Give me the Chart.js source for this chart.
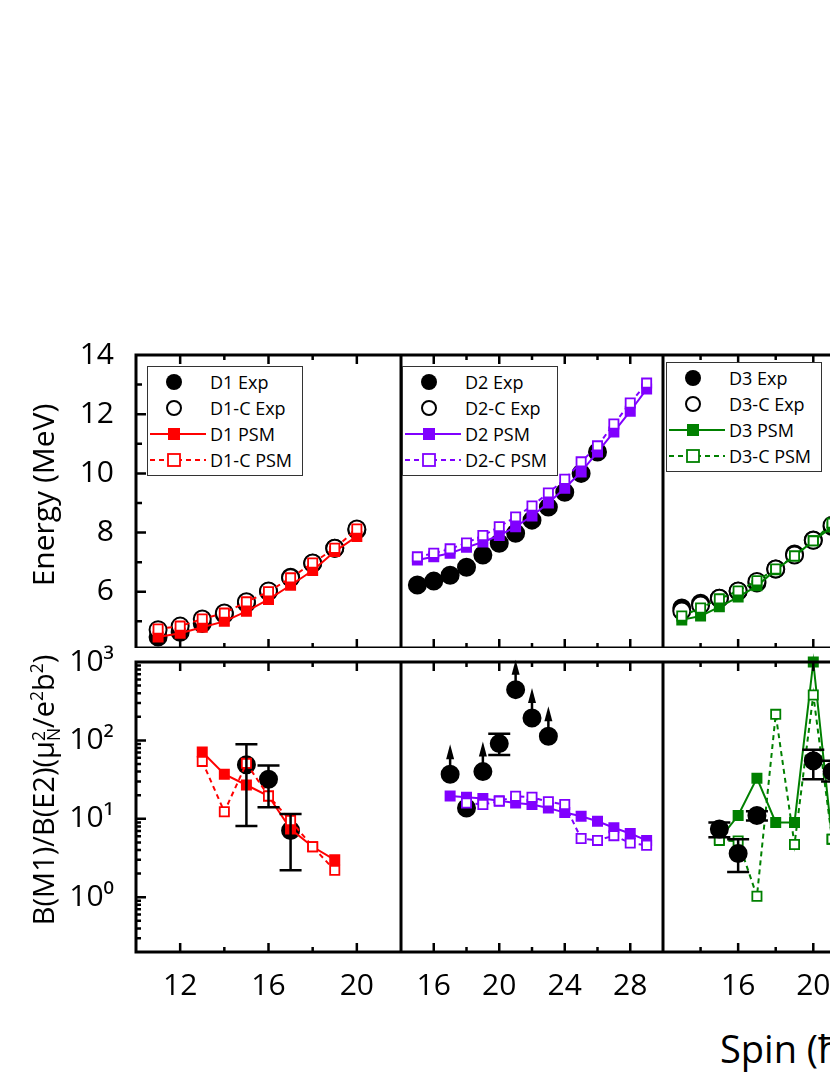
<!DOCTYPE html>
<html><head><meta charset="utf-8">
<script src="https://cdn.jsdelivr.net/npm/chart.js@4"></script>
<style>
html,body{margin:0;padding:0;background:#fff;overflow:hidden;width:830px;height:1075px;font-family:"Open Sans",sans-serif;}
canvas{position:absolute;}
.leg{position:absolute;border:1.5px solid #333;background:#fff;font-size:18px;color:#000;z-index:5;}
.leg div{height:26px;display:flex;align-items:center;}
.leg svg{width:62px;height:24px;flex:none;}
.t{position:absolute;color:#000;white-space:nowrap;}
</style></head><body>
<script>
// ---------- data ----------
const d1Spin=[11,12,13,14,15,16,17,18,19,20];
const d1Exp=[4.47,4.63,4.93,5.24,5.61,6.01,6.49,6.96,7.47,8.09];
const d1cExp=[4.72,4.84,5.08,5.28,5.66,6.03,6.47,6.97,7.47,8.12];
const d1Psm=[4.47,4.6,4.8,5.0,5.34,5.74,6.22,6.72,7.36,7.87];
const d1cPsm=[4.74,4.84,5.08,5.28,5.66,6.0,6.47,6.97,7.47,8.12];

const d2Spin=[15,16,17,18,19,20,21,22,23,24,25,26,27,28,29];
const d2ExpSpin=[15,16,17,18,19,20,21,22,23,24,25,26];
const d2Exp=[6.23,6.36,6.56,6.83,7.24,7.64,7.98,8.42,8.86,9.36,10.0,10.72];
const d2Psm=[7.07,7.18,7.3,7.5,7.68,7.9,8.2,8.56,9.0,9.5,10.05,10.72,11.4,12.1,12.85];
const d2cPsm=[7.18,7.3,7.45,7.65,7.9,8.2,8.53,8.9,9.34,9.8,10.39,10.93,11.67,12.38,13.05];

const d3Spin=[13,14,15,16,17,18,19,20,21];
const d3Exp=[5.45,5.61,5.78,6.02,6.3,6.77,7.28,7.75,8.2];
const d3cExp=[5.35,5.55,5.78,6.03,6.35,6.77,7.24,7.74,8.25];
const d3Psm=[5.05,5.18,5.49,5.82,6.2,6.74,7.21,7.72,8.19];
const d3cPsm=[5.18,5.45,5.76,6.03,6.37,6.77,7.21,7.72,8.32];

// B(M1)/B(E2)
const r1ExpSpin=[15,16,17];
const r1Exp=[49,32,7.1];
const r1ExpLo=[8.1,14,2.2];
const r1ExpHi=[89,48,11.5];
const r1PsmSpin=[13,14,15,16,17,18,19];
const r1Psm=[71,37,27,19.5,7.4,4.4,3.0];
const r1cPsm=[54,12.3,51,19.5,9.5,4.4,2.2];

const r2ExpSpin=[17,18,19,20,21,22,23];
const r2Exp=[37,13.7,40,91,444,193,113];
const r2ExpLo=[null,null,null,65,null,null,null];
const r2ExpHi=[null,null,null,122,null,null,null];
const r2Arrow=[true,false,true,false,true,true,true];
const r2PsmSpin=[17,18,19,20,21,22,23,24,25,26,27,28,29];
const r2Psm=[19.6,18.8,18.2,17,15.9,15.2,13.7,12,10.8,9.3,7.7,6.5,5.3];
const r2cPsmSpin=[18,19,20,21,22,23,24,25,26,27,28,29];
const r2cPsm=[15.9,15.2,16.8,19.4,18.8,16.5,15.2,5.6,5.3,6.1,4.9,4.6];

const r3ExpSpin=[15,16,17,20,21];
const r3Exp=[7.4,3.6,11,55,40];
const r3ExpLo=[5.8,2.1,9.5,32,30];
const r3ExpHi=[9.0,5.5,12.5,76,55];
const r3PsmSpin=[15,16,17,18,19,20,21];
const r3Psm=[5.5,11,33,9,9,1000,5.5];
const r3cPsm=[5.3,5.2,1.03,215,4.7,380,5.5];

const logLabels={1:'10⁰',10:'10¹',100:'10²',1000:'10³'};

// ---------- helpers ----------
const RED='#ff0000',PUR='#8000ff',GRN='#008000';
const pts=(xs,ys)=>xs.map((x,i)=>({x,y:ys[i]}));
function expDs(xs,ys,open,extra){return Object.assign({data:pts(xs,ys),showLine:false,pointStyle:'circle',pointRadius:8.5,pointBorderWidth:2,
  pointBackgroundColor:open?'#fff':'#000',pointBorderColor:'#000',order:open?3:4},extra||{});}
function psmDs(xs,ys,c,open){return {data:pts(xs,ys),showLine:true,borderColor:c,borderWidth:2,borderDash:open?[5,4]:[],
  pointStyle:'rect',pointRadius:6.5,pointBorderWidth:1.8,pointBackgroundColor:open?'#fff':c,pointBorderColor:c,order:open?1:2};}

const framePlugin={id:'frame',
  afterDatasetsDraw(ch){
    const ctx=ch.ctx,a=ch.chartArea,xs=ch.scales.x,ys=ch.scales.y;
    ctx.save();ctx.strokeStyle='#000';ctx.fillStyle='#000';
    ch.data.datasets.forEach((ds)=>{
      if(!ds.errLo&&!ds.arrow)return;
      ds.data.forEach((p,i)=>{
        const x=xs.getPixelForValue(p.x),y=ys.getPixelForValue(p.y);
        ctx.lineWidth=2.5;
        if(ds.errLo&&ds.errLo[i]!=null){
          const y1=ys.getPixelForValue(ds.errLo[i]),y2=ys.getPixelForValue(ds.errHi[i]);
          ctx.beginPath();ctx.moveTo(x,y1);ctx.lineTo(x,y2);
          ctx.moveTo(x-11,y1);ctx.lineTo(x+11,y1);ctx.moveTo(x-11,y2);ctx.lineTo(x+11,y2);ctx.stroke();
        }
        if(ds.arrow&&ds.arrow[i]){
          ctx.beginPath();ctx.moveTo(x,y-8);ctx.lineTo(x,y-16);ctx.stroke();
          ctx.beginPath();ctx.moveTo(x,y-30);ctx.lineTo(x-4,y-15);ctx.lineTo(x+4,y-15);ctx.closePath();ctx.fill();
        }
      });
    });
    ctx.lineWidth=2.5;ctx.beginPath();
    for(let v=Math.ceil(xs.min);v<=xs.max;v+=2){
      if(v<=xs.min+0.01||v>=xs.max-0.01)continue;
      const x=xs.getPixelForValue(v),L=(v%4===0)?9:5;
      ctx.moveTo(x,a.bottom);ctx.lineTo(x,a.bottom-L);
      ctx.moveTo(x,a.top);ctx.lineTo(x,a.top+L);
    }
    if(ch.options.leftTicks){
      if(ys.type==='logarithmic'){
        for(let d=-1;d<=3;d++)for(let m=1;m<=9;m++){
          const v=m*Math.pow(10,d);if(v<=ys.min||v>=ys.max)continue;
          const y=ys.getPixelForValue(v),L=m===1?10:5;
          ctx.moveTo(a.left,y);ctx.lineTo(a.left+L,y);
        }
      }else{
        for(let v=Math.ceil(ys.min);v<ys.max;v++){
          const y=ys.getPixelForValue(v),L=v%2===0?10:6;
          ctx.moveTo(a.left,y);ctx.lineTo(a.left+L,y);
        }
      }
    }
    ctx.stroke();
    ctx.lineWidth=3;ctx.strokeRect(a.left,a.top,a.right-a.left,a.bottom-a.top);
    ctx.restore();
  }};

const COLS=[[136,401,10,22],[401,663,14,30],[663,926,12,26]];
const ROWS=[[355,648],[662,952]];
const FONT='"Open Sans", sans-serif';
const TOPM=24;
const noPad=s=>{s.paddingTop=0;s.paddingBottom=0;s.paddingLeft=0;s.paddingRight=0;};

function panel(col,row,datasets){
  const [cl,cr,xmin,xmax]=COLS[col],[rt,rb]=ROWS[row];
  const left=col===0?0:cl,top=rt-TOPM,w=cr-left,h=rb-rt+TOPM+(row===1?60:0);
  const cv=document.createElement('canvas');
  cv.style.left=left+'px';cv.style.top=top+'px';cv.style.width=w+'px';cv.style.height=h+'px';
  cv.width=w;cv.height=h;document.body.appendChild(cv);
  const isLog=row===1;
  const yFit=s=>{noPad(s);if(col===0)s.width=136;};
  const xFit=s=>{noPad(s);if(row===1)s.height=60;};
  new Chart(cv,{type:'scatter',data:{datasets},plugins:[framePlugin],
    options:{responsive:false,animation:false,devicePixelRatio:1,leftTicks:col===0,
      layout:{padding:{top:TOPM,left:0,right:0,bottom:0},autoPadding:false},plugins:{legend:{display:false},tooltip:{enabled:false}},
      elements:{line:{tension:0}},
      datasets:{scatter:{clip:false}},
      scales:{
        x:{type:'linear',min:xmin,max:xmax,display:row===1,grid:{display:false},border:{display:false},
          afterFit:xFit,
          ticks:{stepSize:2,padding:8,color:'#000',font:{family:FONT,size:30},autoSkip:false,maxRotation:0,
            callback:v=>(v%4===0&&v>xmin&&v<xmax)?String(v):''}},
        y:isLog?{type:'logarithmic',min:0.2,max:1000,display:col===0,grid:{display:false},border:{display:false},
          afterFit:yFit,
          ticks:{padding:14,color:'#000',font:{family:FONT,size:30},autoSkip:false,
            callback:v=>logLabels[v]||''}}
          :{type:'linear',min:4.1,max:14,display:col===0,grid:{display:false},border:{display:false},
          afterFit:yFit,
          ticks:{stepSize:1,padding:14,color:'#000',font:{family:FONT,size:30},autoSkip:false,
            callback:v=>(Number.isInteger(v)&&v%2===0)?String(v):''}}
      }}});
}

panel(0,0,[psmDs(d1Spin,d1cPsm,RED,true),psmDs(d1Spin,d1Psm,RED,false),expDs(d1Spin,d1cExp,true),expDs(d1Spin,d1Exp,false)]);
panel(1,0,[psmDs(d2Spin,d2cPsm,PUR,true),psmDs(d2Spin,d2Psm,PUR,false),expDs(d2ExpSpin,d2Exp,false)]);
panel(2,0,[psmDs(d3Spin,d3cPsm,GRN,true),psmDs(d3Spin,d3Psm,GRN,false),expDs(d3Spin,d3cExp,true),expDs(d3Spin,d3Exp,false)]);
panel(0,1,[psmDs(r1PsmSpin,r1cPsm,RED,true),psmDs(r1PsmSpin,r1Psm,RED,false),expDs(r1ExpSpin,r1Exp,false,{errLo:r1ExpLo,errHi:r1ExpHi})]);
panel(1,1,[psmDs(r2cPsmSpin,r2cPsm,PUR,true),psmDs(r2PsmSpin,r2Psm,PUR,false),expDs(r2ExpSpin,r2Exp,false,{errLo:r2ExpLo,errHi:r2ExpHi,arrow:r2Arrow})]);
panel(2,1,[psmDs(r3PsmSpin,r3cPsm,GRN,true),psmDs(r3PsmSpin,r3Psm,GRN,false),expDs(r3ExpSpin,r3Exp,false,{errLo:r3ExpLo,errHi:r3ExpHi,order:0})]);

function legend(x,y,name,c){
  const d=document.createElement('div');d.className='leg';d.style.left=x+'px';d.style.top=y+'px';d.style.width='154px';d.style.padding='2px 0';
  const sym=[
    '<circle cx="26" cy="12" r="8" fill="#000"/>',
    '<circle cx="26" cy="12" r="7" fill="#fff" stroke="#000" stroke-width="2"/>',
    `<line x1="2" y1="12" x2="58" y2="12" stroke="${c}" stroke-width="2"/><rect x="20" y="6" width="12" height="12" fill="${c}"/>`,
    `<line x1="2" y1="12" x2="58" y2="12" stroke="${c}" stroke-width="2" stroke-dasharray="5,4"/><rect x="20" y="6" width="12" height="12" fill="#fff" stroke="${c}" stroke-width="1.8"/>`];
  const txt=[name+' Exp',name+'-C Exp',name+' PSM',name+'-C PSM'];
  d.innerHTML=txt.map((t,i)=>`<div><svg viewBox="0 0 62 24">${sym[i]}</svg><span>${t}</span></div>`).join('');
  document.body.appendChild(d);
}
legend(147,366,'D1',RED);legend(402,366,'D2',PUR);legend(666,362,'D3',GRN);

function text(html,css){const d=document.createElement('div');d.className='t';d.innerHTML=html;Object.assign(d.style,css);document.body.appendChild(d);}
text('Energy (MeV)',{left:'42px',top:'495px',fontSize:'30px',transform:'translate(-50%,-50%) rotate(-90deg)'});
text('B(M1)/B(E2)(μ<span style="display:inline-block;vertical-align:middle;line-height:0.9;font-size:0.6em;text-align:left"><span style="display:block">2</span><span style="display:block">N</span></span>/e<sup style="font-size:0.6em">2</sup>b<sup style="font-size:0.6em">2</sup>)',
  {left:'42px',top:'790px',fontSize:'29px',transform:'translate(-50%,-50%) rotate(-90deg)'});
text('Spin (ħ)',{left:'720px',top:'1022px',fontSize:'38px'});
</script>
</body></html>
